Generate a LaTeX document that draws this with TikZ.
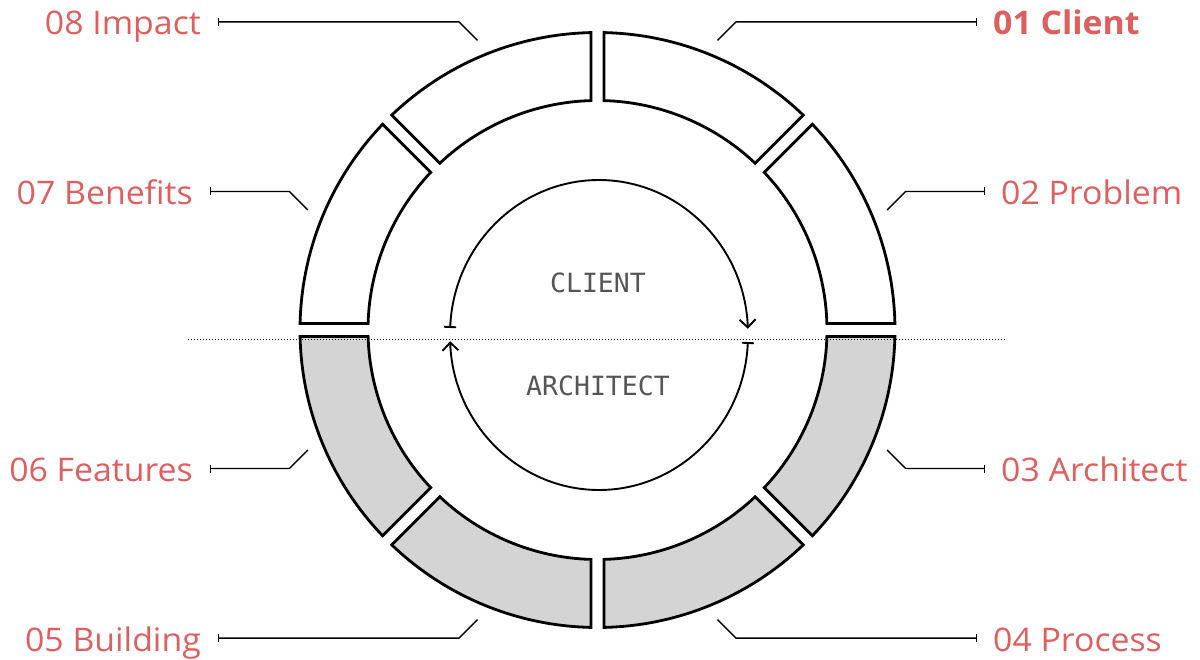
\documentclass[tikz,border=0pt]{standalone}
\usepackage{fontspec}
\setmainfont{Open Sans}[FakeStretch=1.04]
\newfontfamily\monofont{DejaVu Sans Mono}
\usetikzlibrary{arrows.meta}
\definecolor{labelred}{HTML}{DE5F5F}
\definecolor{segfill}{HTML}{D4D4D4}
\definecolor{coregray}{HTML}{555555}
\begin{document}
\begin{tikzpicture}[x=1pt,y=1pt,
  seg/.style={draw=black, line width=2.8pt, line join=miter},
  conn/.style={draw=black, line width=1.4pt, -{Bar[width=8pt]}},
  lbl/.style={text=labelred, font=\fontsize{32.5}{36}\selectfont, inner sep=0pt},
  corelbl/.style={text=coregray, font=\monofont\fontsize{26.5}{30}\selectfont, inner sep=0pt},
  flow/.style={draw=black, line width=1.9pt},
  dotline/.style={draw=black, line width=0.9pt, dash pattern=on 0.9pt off 2.1pt}
]
\useasboundingbox (-597.5,-329) rectangle (602.5,330);

% eight ring segments, separated by straight gaps of constant width
\foreach \i in {0,...,7}{
  \pgfmathsetmacro\a{45*\i}
  \ifnum\i<4 \def\fc{white}\else\def\fc{segfill}\fi
  \draw[seg, fill=\fc]
    (\a+1.252:297.5pt) arc[start angle=\a+1.252, end angle=\a+43.748, radius=297.5pt]
    -- (\a+43.377:229.5pt) arc[start angle=\a+43.377, end angle=\a+1.623, radius=229.5pt]
    -- cycle;
}

% anchor points on the ring, knees and bar ends of the leader lines
\coordinate (r1) at (67.5:313.5pt);   \coordinate (k1) at (138.5,308.1);   \coordinate (b1) at (379.5,308.1);
\coordinate (r2) at (22.5:313.5pt);   \coordinate (k2) at (308.1,138.5);   \coordinate (b2) at (387.5,138.5);
\coordinate (r3) at (-22.5:313.5pt);  \coordinate (k3) at (308.1,-138.5);  \coordinate (b3) at (387.5,-138.5);
\coordinate (r4) at (-67.5:313.5pt);  \coordinate (k4) at (138.5,-308.1);  \coordinate (b4) at (379.5,-308.1);
\coordinate (r5) at (-112.5:313.5pt); \coordinate (k5) at (-138.5,-308.1); \coordinate (b5) at (-379.5,-308.1);
\coordinate (r6) at (-157.5:313.5pt); \coordinate (k6) at (-308.1,-138.5); \coordinate (b6) at (-387.5,-138.5);
\coordinate (r7) at (157.5:313.5pt);  \coordinate (k7) at (-308.1,138.5);  \coordinate (b7) at (-387.5,138.5);
\coordinate (r8) at (112.5:313.5pt);  \coordinate (k8) at (-138.5,308.1);  \coordinate (b8) at (-379.5,308.1);

\foreach \n in {1,...,8}{
  \draw[conn] (r\n) -- (k\n) -- (b\n);
}

% stage labels
\node[lbl, anchor=base west] (l1) at ([shift={(16,-13)}]b1) {\bfseries 01 Client};
\node[lbl, anchor=base west] (l2) at ([shift={(16,-13)}]b2) {02 Problem};
\node[lbl, anchor=base west] (l3) at ([shift={(16,-13)}]b3) {03 Architect};
\node[lbl, anchor=base west] (l4) at ([shift={(16,-13)}]b4) {04 Process};
\node[lbl, anchor=base east] (l5) at ([shift={(-17,-13)}]b5) {05 Building};
\node[lbl, anchor=base east] (l6) at ([shift={(-17,-13)}]b6) {06 Features};
\node[lbl, anchor=base east] (l7) at ([shift={(-17,-13)}]b7) {07 Benefits};
\node[lbl, anchor=base east] (l8) at ([shift={(-17,-13)}]b8) {08 Impact};

% dividing line between the two halves
\coordinate (dl) at (-409.5,-9);
\coordinate (dr) at (408.5,-9);
\draw[dotline] (dl) -- (dr);

% inner cycle of the two roles
\coordinate (core) at (1.5,-5);
\draw[flow, {Bar[width=12pt]}-{Straight Barb[length=8pt,width=16pt]}]
  ([shift={(177.4:149pt and 155pt)}]core) arc[start angle=177.4, end angle=2.3, x radius=149pt, y radius=155pt];
\draw[flow, {Bar[width=12pt]}-{Straight Barb[length=8pt,width=16pt]}]
  ([shift={(-2.6:149pt and 155pt)}]core) arc[start angle=-2.6, end angle=-177.7, x radius=149pt, y radius=155pt];

\node[corelbl, anchor=base] (client) at (0.5,38) {CLIENT};
\node[corelbl, anchor=base] (architect) at (0.5,-65) {ARCHITECT};
\end{tikzpicture}
\end{document}
